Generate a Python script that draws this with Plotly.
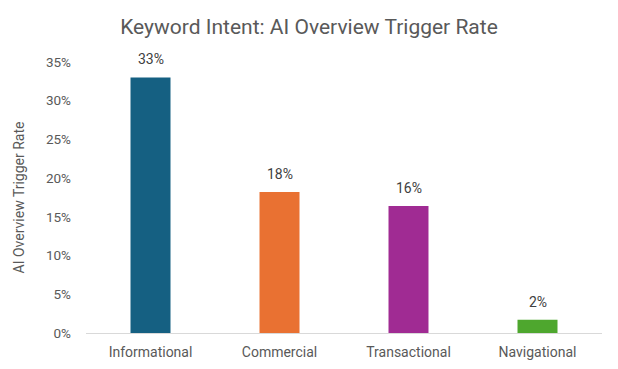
import plotly.graph_objects as go

categories = ["Informational", "Commercial", "Transactional", "Navigational"]
values = [0.33, 0.182, 0.164, 0.017]
colors = ["#156082", "#E97132", "#A02B93", "#4EA72E"]
y_ticks = [0, 0.05, 0.10, 0.15, 0.20, 0.25, 0.30, 0.35]

fig = go.Figure(go.Bar(
    x=categories, y=values,
    marker=dict(color=colors, line=dict(width=0)),
    width=0.31,
))

for c, v in zip(categories, values):
    fig.add_annotation(x=c, y=v, text=f"{v:.0%}", showarrow=False,
                       yanchor="bottom", yshift=8,
                       font=dict(size=14, color="#404040"))

fig.update_layout(
    width=618, height=369,
    margin=dict(l=86, r=16, t=62, b=36),
    paper_bgcolor="white", plot_bgcolor="white",
    font=dict(family="Roboto, sans-serif", color="#595959", size=14),
    title=dict(text="Keyword Intent: AI Overview Trigger Rate", x=0.5, xanchor="center",
               yref="container", y=1 - 27 / 369, yanchor="middle",
               font=dict(size=21, color="#595959")),
    showlegend=False,
)
fig.update_yaxes(range=[0, 0.35], tickvals=y_ticks, tickformat=".0%",
                 showgrid=False, zeroline=False, showline=False,
                 ticks="", ticklabelstandoff=14, tickfont=dict(size=13.5),
                 automargin=False,
                 title=dict(text="AI Overview Trigger Rate", font=dict(size=14, color="#595959"), standoff=18))
fig.update_xaxes(showline=True, linecolor="#D9D9D9", linewidth=1, ticks="", showgrid=False,
                 ticklabelstandoff=6, automargin=False)

fig.write_html("out.html", config={"displayModeBar": False},
               post_script="document.body.style.margin='0';document.body.style.padding='0';")
